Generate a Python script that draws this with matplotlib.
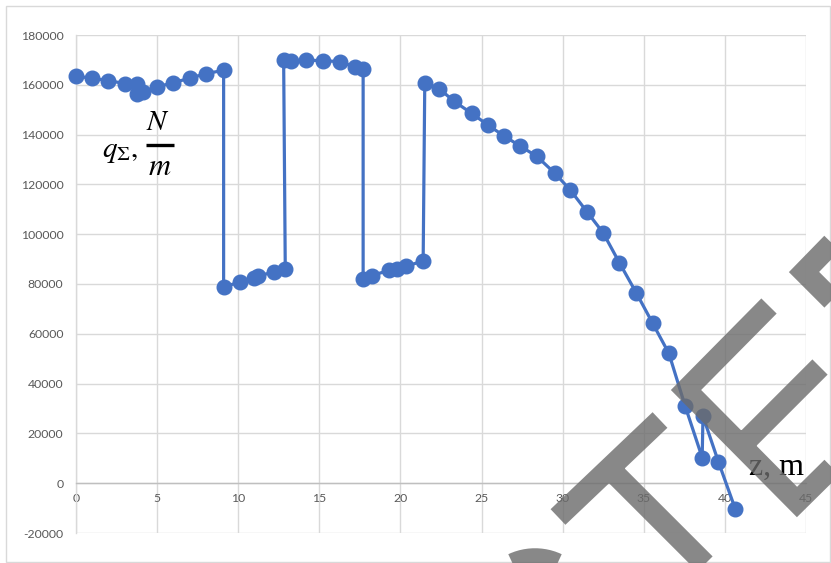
import matplotlib
matplotlib.use("Agg")
import numpy as np
import matplotlib.pyplot as plt
from matplotlib.lines import Line2D
from matplotlib.patches import Rectangle, PathPatch
from matplotlib.path import Path

# ---- data ----
z_m = [0, 1, 2, 3, 3.75, 3.75, 4.15, 5, 6, 7, 8, 9.1,
       9.1, 10.1, 10.95, 11.2, 12.2, 12.9,
       12.8, 13.25, 14.2, 15.2, 16.25, 17.2, 17.7,
       17.7, 18.25, 19.3, 19.8, 20.35, 21.4,
       21.5, 22.4, 23.3, 24.4, 25.4, 26.4, 27.4, 28.4, 29.5, 30.45,
       31.5, 32.5, 33.5, 34.55, 35.55, 36.55, 37.55, 38.6, 38.65, 39.6, 40.65]
q_sum = [163500, 162600, 161700, 160500, 160200, 156300, 157100, 159100,
         160900, 162600, 164500, 165800,
         78800, 80800, 82600, 83100, 84900, 86000,
         169900, 169500, 169900, 169700, 169300, 167200, 166200,
         82200, 83400, 85500, 86200, 87100, 89300,
         160800, 158400, 153400, 148500, 143800, 139400, 135300, 131300,
         124600, 117900, 109000, 100500, 88500, 76300, 64200, 52100,
         31000, 10300, 26900, 8600, -10500]
x_ticks = [0, 5, 10, 15, 20, 25, 30, 35, 40, 45]
y_ticks = [-20000, 0, 20000, 40000, 60000, 80000, 100000, 120000,
           140000, 160000, 180000]

W, H = 831, 563
plt.rcParams["mathtext.fontset"] = "stix"
fig = plt.figure(figsize=(W / 100, H / 100), dpi=100)
ax = fig.add_axes([76 / W, 1 - 533 / H, (806 - 76) / W, (533 - 35) / H])

ax.plot(z_m, q_sum, color="#4472C4", lw=2.3, marker="o", ms=10.5,
        mec="#4472C4", mfc="#4472C4", zorder=3, clip_on=False)

ax.set_xlim(0, 45)
ax.set_ylim(-20000, 180000)
ax.set_xticks(x_ticks)
ax.set_yticks(y_ticks)
ax.set_xticklabels([str(v) for v in x_ticks])
ax.set_yticklabels([str(v) for v in y_ticks])
ax.grid(True, color="#d9d9d9", lw=1.0, zorder=0)
ax.set_axisbelow(True)
for s in ("top", "right"):
    ax.spines[s].set_visible(False)
ax.spines["left"].set_color("#d9d9d9")
ax.spines["left"].set_linewidth(1.0)
ax.spines["bottom"].set_position(("data", 0))
ax.spines["bottom"].set_color("#bfbfbf")
ax.spines["bottom"].set_linewidth(1.0)
ax.tick_params(axis="both", length=0, labelsize=8.8, labelcolor="#595959")
ax.tick_params(axis="x", pad=7)
ax.tick_params(axis="y", pad=9)
for lab in ax.get_xticklabels() + ax.get_yticklabels():
    lab.set_fontfamily("Lato")


def fxy(x, y):
    return x / W, 1 - y / H


# y-axis label: q_Σ, N/m
fig.text(*fxy(102, 157), r"$q_{\Sigma},$", fontsize=21, ha="left",
         va="baseline", color="black")
fig.text(*fxy(157.5, 130), r"$N$", fontsize=21, ha="center",
         va="baseline", color="black")
fig.text(*fxy(159.5, 175), r"$m$", fontsize=22, ha="center",
         va="baseline", color="black")
bx, by = zip(fxy(146, 145), fxy(173.5, 145))
fig.add_artist(Line2D(bx, by, color="black", lw=2.4,
                      solid_capstyle="butt", transform=fig.transFigure))

# x-axis label
ax.text(41.5, 3500, "z, m", fontsize=23, family="Liberation Serif",
        ha="left", va="baseline", color="black", zorder=4)

# figure border
fig.add_artist(Rectangle((5.5 / W, 1 - 562 / H), (830 - 5.5) / W, (562 - 5.5) / H,
                         transform=fig.transFigure, fill=False,
                         edgecolor="#d9d9d9", lw=1.0))

# watermark overlay (image pixel coordinates), one path -> uniform alpha
strokes = [
    [(558, 517), (660, 420)],                          # T bar
    [(609, 468), (725, 584)],                          # T stem
    [(769, 306), (686, 390), (797, 502), (880, 420)],  # E outline
    [(741, 446), (820, 367)],                          # E middle arm
    [(880, 194), (804, 272), (880, 348)],              # next letter
]
ang = np.linspace(np.pi * 0.05, np.pi * 0.95, 40)
strokes.append([(535 + 52 * np.cos(a), 611 - 52 * np.sin(a)) for a in ang])

verts, codes = [], []
for s in strokes:
    for i, (x, y) in enumerate(s):
        verts.append(fxy(x, y))
        codes.append(Path.MOVETO if i == 0 else Path.LINETO)
wm = PathPatch(Path(verts, codes), fill=False, edgecolor=(0.42, 0.42, 0.42),
               alpha=0.8, lw=15.5, capstyle="butt", joinstyle="miter",
               transform=fig.transFigure, zorder=10)
fig.add_artist(wm)

fig.savefig("out.png", dpi=100)
